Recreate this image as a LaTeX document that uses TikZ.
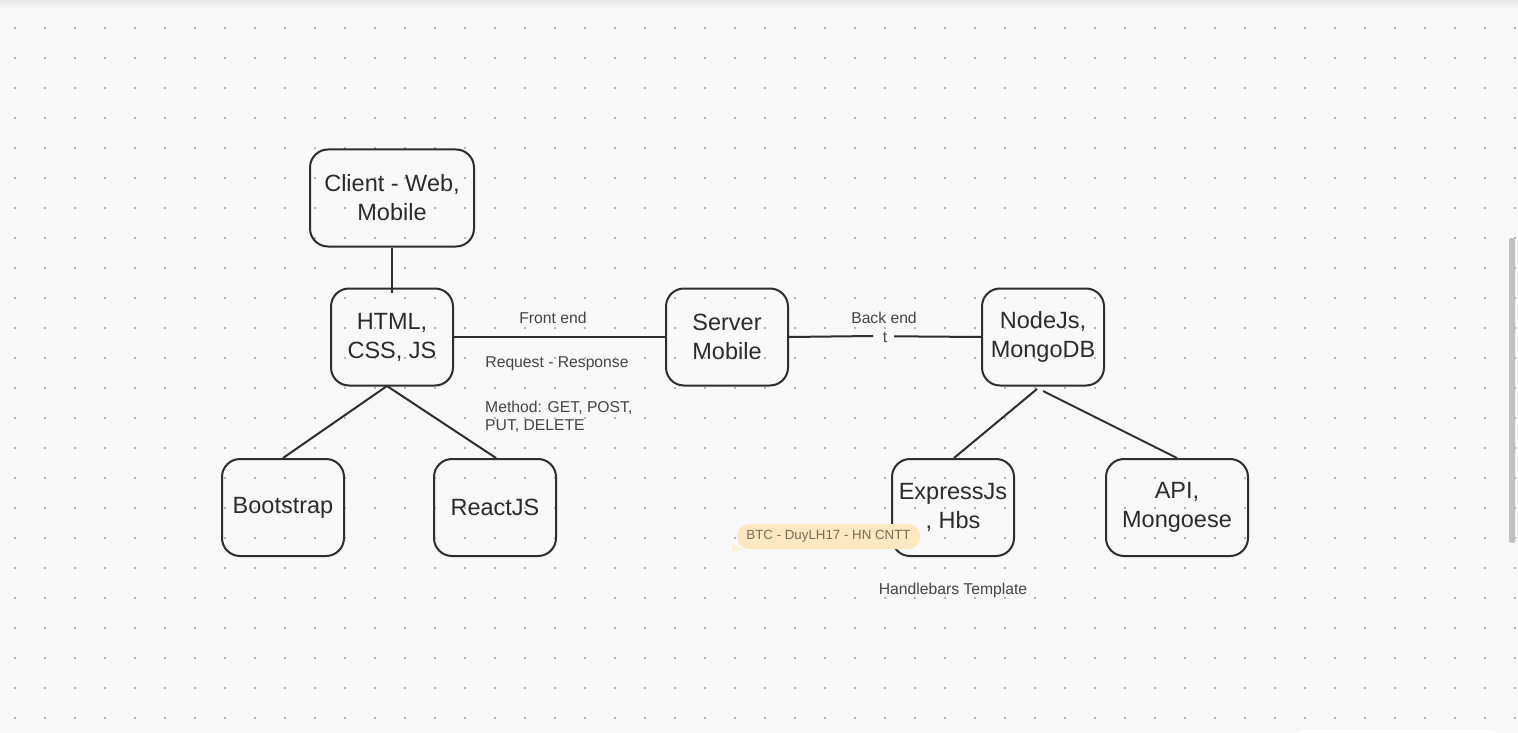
\documentclass[tikz,border=0pt]{standalone}
\usepackage{fontspec}
\setmainfont{Liberation Sans}
\definecolor{bgc}{HTML}{F8F8F8}
\definecolor{dotc}{HTML}{B4B4B4}
\definecolor{linec}{HTML}{2E2E2E}
\definecolor{txtc}{HTML}{2B2B2B}
\definecolor{lblc}{HTML}{444444}
\definecolor{tagfill}{HTML}{FDE8C2}
\definecolor{tagtxt}{HTML}{7A6B52}
\definecolor{scrollc}{HTML}{C1C1C1}
\begin{document}
\begin{tikzpicture}[x=1pt,y=-1pt,
  box/.style={draw=linec, line width=2pt, rounded corners=18pt, align=center,
    text=txtc, font=\fontsize{23.5}{29}\selectfont, inner sep=0pt,
    minimum width=122pt, minimum height=97pt},
  lbl/.style={text=lblc, font=\fontsize{15.7}{18}\selectfont, inner sep=0pt},
  conn/.style={draw=linec, line width=2pt}]
\useasboundingbox (0,0) rectangle (1518,733);
\fill[bgc] (0,0) rectangle (1518,733);
\shade[top color=black!9, bottom color=bgc] (0,0) rectangle (1518,9);
\foreach \gx in {15,45,...,1515}{
  \foreach \gy in {28,58,...,718}{
    \fill[dotc] (\gx-0.8,\gy-0.8) rectangle ++(1.6,1.6);
  }
}
\fill[white] (1300,730) rectangle (1495,733);
\fill[scrollc, rounded corners=2pt] (1509,238) rectangle (1515,543);

% boxes
\node[box, minimum width=164pt] (client) at (392,198) {Client - Web,\\Mobile};
\node[box] (html) at (392,337) {HTML,\\CSS, JS};
\node[box] (server) at (727,337) {Server\\Mobile};
\node[box] (nodejs) at (1043,337) {NodeJs,\\MongoDB};
\node[box] (boot) at (283,507.5) {Bootstrap};
\node[box] (react) at (495,507.5) {ReactJS};
\node[box] (express) at (953,507.5) {ExpressJs\\, Hbs};
\node[box, minimum width=142pt] (api) at (1177,507.5) {API,\\Mongoese};

% connectors
\draw[conn] (client.south) -- ([yshift=-5pt]html.north);
\draw[conn] (html.east) -- (server.west);
\coordinate (tl) at (873,336);
\coordinate (tr) at (894,336.3);
\draw[conn] (server.east) -- (tl);
\draw[conn] (tr) -- (nodejs.west);
\coordinate (hb) at (387,386);
\draw[conn] (hb) -- ([xshift=0pt]boot.north);
\draw[conn] (hb) -- ([xshift=1pt]react.north);
\coordinate (nb1) at (1037,389);
\coordinate (nb2) at (1043,391);
\draw[conn] (nb1) -- ([xshift=1pt]express.north);
\draw[conn] (nb2) -- (api.north);

% labels
\node[lbl] (fe) at (553,318) {Front end};
\node[lbl] (rr) at (557,364) {Request - Response};
\node[lbl, align=left, anchor=west, font=\fontsize{15.7}{18}\selectfont] (meth) at (485,417) {Method: GET, POST,\\PUT, DELETE};
\node[lbl] (be) at (884,318) {Back end};
\node[lbl] (tt) at (885,337) {t};
\node[lbl] (hbs) at (953,590) {Handlebars Template};

% tag
\fill[tagfill!70] (731,543) -- (742,550) -- (733,551) -- cycle;
\node[fill=tagfill, rounded corners=12pt, minimum height=25pt, minimum width=183pt,
  inner sep=0pt, text=tagtxt, font=\fontsize{13.3}{15}\selectfont] (tag) at (828.5,536.5) {BTC - DuyLH17 - HN CNTT};
\end{tikzpicture}
\end{document}
